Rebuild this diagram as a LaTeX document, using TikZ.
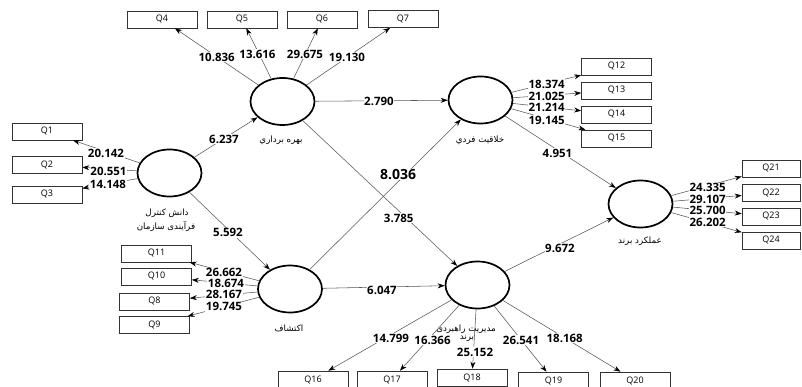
\documentclass[tikz,border=0pt]{standalone}
\usepackage{fontspec}
\setmainfont{Open Sans}
\newfontfamily\fa[Script=Arabic]{DejaVu Sans}
\TeXXeTstate=1
\usetikzlibrary{shapes.geometric,arrows.meta}
\begin{document}
\begin{tikzpicture}[x=1pt,y=-1pt,
 lv/.style={ellipse,draw=black,line width=1.7pt,minimum width=64pt,minimum height=47pt,inner sep=0pt},
 ind/.style={draw=black!80,line width=0.6pt,minimum width=70pt,minimum height=17pt,inner sep=0pt,font=\fontsize{9}{10}\selectfont},
 con/.style={draw=black!65,line width=0.55pt,-{Stealth[length=7pt,width=5pt,black]}},
 val/.style={fill=white,inner sep=0.6pt,font=\bfseries\fontsize{11.5}{12}\selectfont},
 nm/.style={font=\fa\fontsize{8.7}{9}\selectfont,inner sep=0pt}]
\fill[white] (0,0) rectangle (802,387);
\useasboundingbox (0,0) rectangle (802,387);
% latent variables
\node[lv] (A) at (169.5,173) {};
\node[lv] (B) at (282.5,101.5) {};
\node[lv] (C) at (290,289) {};
\node[lv] (D) at (480.5,100) {};
\node[lv] (E) at (477.5,285) {};
\node[lv] (F) at (640.5,204) {};
% indicators
\node[ind] (q1) at (47,131.5) {Q1};
\node[ind] (q2) at (47,165) {Q2};
\node[ind] (q3) at (47,194.5) {Q3};
\node[ind] (q4) at (162,19.5) {Q4};
\node[ind] (q5) at (242,19.5) {Q5};
\node[ind] (q6) at (322,19.5) {Q6};
\node[ind] (q7) at (403,19) {Q7};
\node[ind] (q11) at (156.5,253.5) {Q11};
\node[ind] (q10) at (156.5,276.5) {Q10};
\node[ind] (q8) at (154.5,301.5) {Q8};
\node[ind] (q9) at (154.5,325) {Q9};
\node[ind] (q12) at (616.5,66.5) {Q12};
\node[ind] (q13) at (616.5,90.5) {Q13};
\node[ind] (q14) at (616.5,114.5) {Q14};
\node[ind] (q15) at (616.5,138.5) {Q15};
\node[ind,minimum width=58pt] (q21) at (771,168.5) {Q21};
\node[ind,minimum width=58pt] (q22) at (771,193) {Q22};
\node[ind,minimum width=58pt] (q23) at (771,216.5) {Q23};
\node[ind,minimum width=58pt] (q24) at (771,240.5) {Q24};
\node[ind] (q16) at (313,379.5) {Q16};
\node[ind] (q17) at (392,379.5) {Q17};
\node[ind] (q18) at (472,377.5) {Q18};
\node[ind] (q19) at (553.5,380.5) {Q19};
\node[ind] (q20) at (635,380.5) {Q20};
% structural paths
\draw[con] (A) -- (B);
\draw[con] (A) -- (C);
\draw[con] (B) -- (D);
\draw[con] (B) -- (E);
\draw[con] (C) -- (D);
\draw[con] (C) -- (E);
\draw[con] (D) -- (F);
\draw[con] (E) -- (F);
% measurement paths
\foreach \q in {q1,q2,q3} \draw[con] (A) -- (\q);
\foreach \q in {q4,q5,q6,q7} \draw[con] (B) -- (\q);
\foreach \q in {q8,q9,q10,q11} \draw[con] (C) -- (\q);
\foreach \q in {q12,q13,q14,q15} \draw[con] (D) -- (\q);
\foreach \q in {q16,q17,q18,q19,q20} \draw[con] (E) -- (\q);
\foreach \q in {q21,q22,q23,q24} \draw[con] (F) -- (\q);
% values
\node[val] (v1) at (106,153) {20.142};
\node[val] (v2) at (108.5,171) {20.551};
\node[val] (v3) at (108,184) {14.148};
\node[val] (v4) at (216.7,57.3) {10.836};
\node[val] (v5) at (257.5,54) {13.616};
\node[val] (v6) at (305,54) {29.675};
\node[val] (v7) at (347,57) {19.130};
\node[val] (v11) at (224,272.7) {26.662};
\node[val] (v10) at (226,283.3) {18.674};
\node[val] (v8) at (224,294.3) {28.167};
\node[val] (v9) at (224,306.7) {19.745};
\node[val] (v12) at (546.7,84.3) {18.374};
\node[val] (v13) at (546.7,96.7) {21.025};
\node[val] (v14) at (546.7,107.7) {21.214};
\node[val] (v15) at (546.7,120) {19.145};
\node[val] (v21) at (707.7,187.7) {24.335};
\node[val] (v22) at (707.7,199.3) {29.107};
\node[val] (v23) at (707.7,210) {25.700};
\node[val] (v24) at (707.7,222.3) {26.202};
\node[val] (v16) at (391,338) {14.799};
\node[val] (v17) at (432.5,340) {16.366};
\node[val] (v18) at (475,352) {25.152};
\node[val] (v19) at (521,340) {26.541};
\node[val] (v20) at (564.7,338) {18.168};
\node[val] (sAB) at (224,139.3) {6.237};
\node[val] (sAC) at (228,232.7) {5.592};
\node[val] (sBD) at (379,101.7) {2.790};
\node[val,font=\bfseries\fontsize{14}{15}\selectfont] (sCD) at (398,174.3) {8.036};
\node[val] (sBE) at (398.7,218.3) {3.785};
\node[val] (sCE) at (382,290.7) {6.047};
\node[val] (sDF) at (557.5,153.3) {4.951};
\node[val] (sEF) at (560,248.3) {9.672};
% construct names
\node[nm] (nB) at (281,140) {\beginR بهره برداري\endR};
\node[nm] (nD) at (480,140) {\beginR خلاقیت فردي\endR};
\node[nm] (nA1) at (167,213) {\beginR دانش کنترل\endR};
\node[nm] (nA2) at (166,226.7) {\beginR فرآیندی سازمان\endR};
\node[nm] (nF) at (640,241.7) {\beginR عملکرد برند\endR};
\node[nm] (nC) at (289,328) {\beginR اکتشاف\endR};
\node[nm] (nE1) at (466,329) {\beginR مدیریت راهبردی\endR};
\node[nm] (nE2) at (467,338) {\beginR برند\endR};
\end{tikzpicture}
\end{document}
